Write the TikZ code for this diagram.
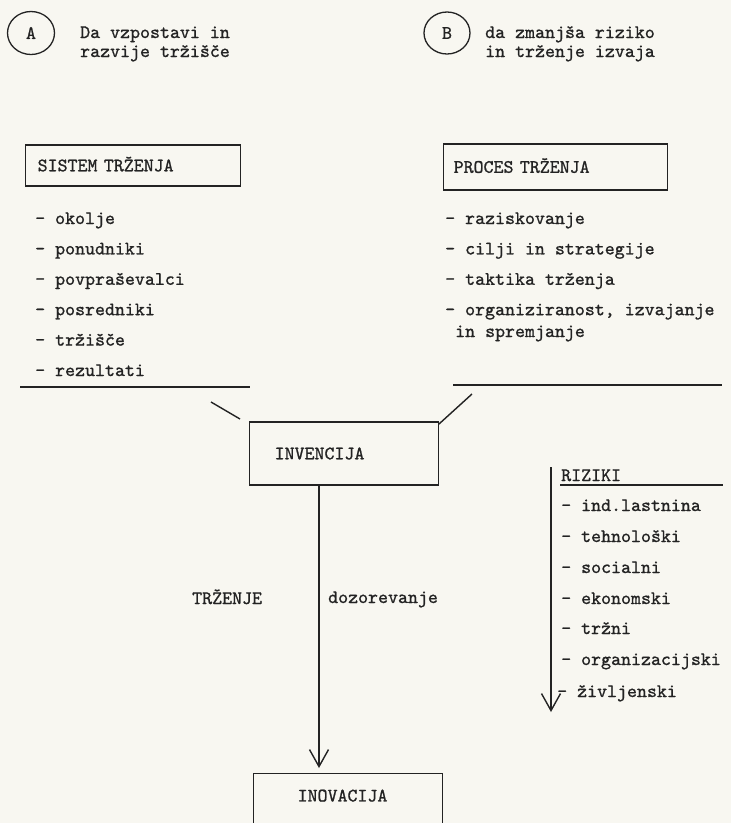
\documentclass[tikz,border=0pt]{standalone}
\usepackage{fontspec}
\newfontfamily\twfont{lmmono10-regular}[Extension=.otf, FakeBold=1.0]
\usetikzlibrary{arrows.meta,shapes.geometric}
\definecolor{paper}{RGB}{248,247,241}
\definecolor{ink}{RGB}{35,35,35}
\tikzset{
  every node/.style={inner sep=0pt, text=ink},
  lbl/.style={anchor=base west},
  boxnode/.style={draw=ink, line width=1.3pt, text height=11.6pt, text depth=0pt, align=left},
  ln/.style={draw=ink, line width=1.4pt},
  arr/.style={ln, -{Straight Barb[length=17pt,width=19pt,line width=1.4pt]}},
  circ/.style={draw=ink, line width=1.3pt, ellipse, minimum width=47pt, minimum height=43pt},
}
\begin{document}
\begin{tikzpicture}[x=1pt,y=-1pt,font=\twfont\fontsize{19}{19}\selectfont]
\clip (0,0) rectangle (731,823);
\fill[paper] (0,0) rectangle (731,823);

% header A
\node[circ] (cA) at (31,33) {A};
\node[lbl] (tA1) at (80,38) {Da vzpostavi in};
\node[lbl] (tA2) at (80,57) {razvije tržišče};
% header B
\node[circ, minimum width=46pt, minimum height=42pt] (cB) at (447,33) {B};
\node[lbl] (tB1) at (485,38) {da zmanjša riziko};
\node[lbl] (tB2) at (485,57) {in trženje izvaja};

% left column
\node[boxnode, anchor=west, inner xsep=12pt, text width=191pt, inner ysep=14.7pt] (sis) at (25,165.5) {SISTEM TRŽENJA};
\node[lbl] (s1) at (35,224) {- okolje};
\node[lbl] (s2) at (35,254.4) {- ponudniki};
\node[lbl] (s3) at (35,284.8) {- povpraševalci};
\node[lbl] (s4) at (35,315.2) {- posredniki};
\node[lbl] (s5) at (35,345.6) {- tržišče};
\node[lbl] (s6) at (35,376) {- rezultati};
\coordinate (ulA) at (20,387);
\coordinate (ulB) at (250,387);
\draw[ln] (ulA) -- (ulB);

% right column
\node[boxnode, anchor=west, inner xsep=10pt, text width=204pt, inner ysep=17.2pt] (pro) at (443,167) {PROCES TRŽENJA};
\node[lbl] (p1) at (445,224) {- raziskovanje};
\node[lbl] (p2) at (445,254.4) {- cilji in strategije};
\node[lbl] (p3) at (445,284.8) {- taktika trženja};
\node[lbl] (p4) at (445,315.2) {- organiziranost, izvajanje};
\node[lbl] (p5) at (455,337) {in spremjanje};
\coordinate (urA) at (453,385);
\coordinate (urB) at (722,385);
\draw[ln] (urA) -- (urB);

% invencija
\node[boxnode, anchor=west, inner xsep=25pt, text width=139pt, inner ysep=25.7pt] (inv) at (249,453.5) {INVENCIJA};
\coordinate (dl1) at (211,402);
\coordinate (dl2) at (240,419);
\draw[ln] (dl1) -- (dl2);
\coordinate (dr1) at (472,394);
\coordinate (dr2) at (439,424);
\draw[ln] (dr1) -- (dr2);

% inovacija
\node[boxnode, anchor=north west, inner xsep=44pt, text width=101pt, inner ysep=16.2pt, text depth=70pt] (inova) at (253,773) {INOVACIJA};
\coordinate (vx) at (319,0);
\draw[arr, shorten >=5pt] (inv.south -| vx) -- (inova.north -| vx);

\node[lbl] (trz) at (192,604) {TRŽENJE};
\node[lbl] (doz) at (328,603) {dozorevanje};

% riziki
\coordinate (rtop) at (551,467);
\coordinate (rtip) at (551,712);
\draw[arr] (rtop) -- (rtip);
\node[lbl] (riz) at (561,481) {RIZIKI};
\coordinate (ru1) at (560,485);
\coordinate (ru2) at (723,485);
\draw[ln, line width=1.1pt] (ru1) -- (ru2);
\node[lbl] (r1) at (561,511) {- ind.lastnina};
\node[lbl] (r2) at (561,542) {- tehnološki};
\node[lbl] (r3) at (561,573) {- socialni};
\node[lbl] (r4) at (561,604) {- ekonomski};
\node[lbl] (r5) at (561,634) {- tržni};
\node[lbl] (r6) at (561,665) {- organizacijski};
\node[lbl] (r7) at (557,697) {- življenski};
\end{tikzpicture}
\end{document}
